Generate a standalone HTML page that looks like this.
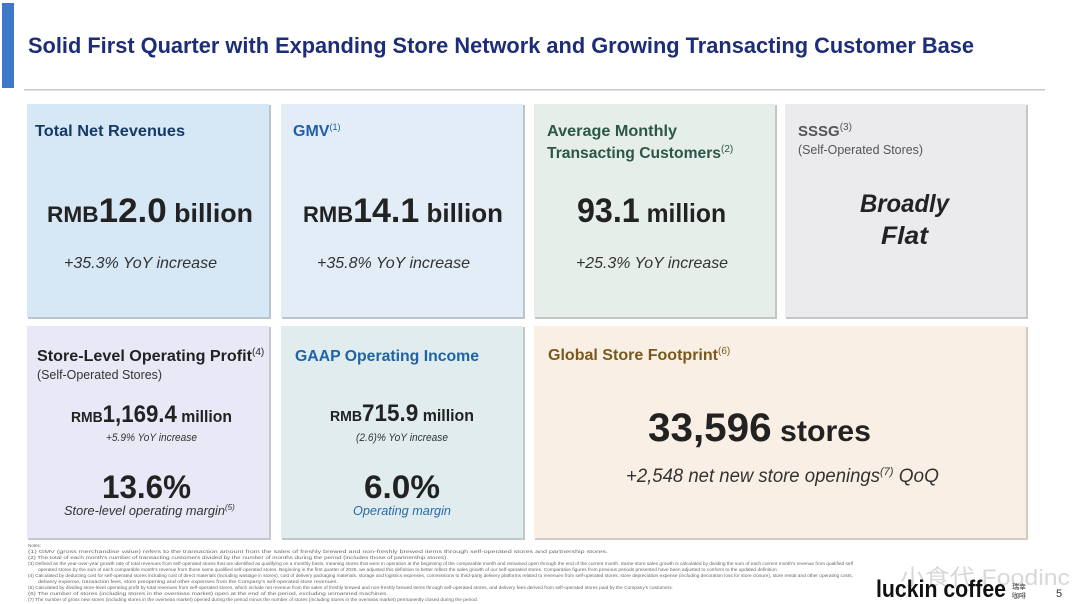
<!DOCTYPE html>
<html><head><meta charset="utf-8"><style>
html,body{margin:0;padding:0;background:#fff;}
svg{display:block;font-family:"Liberation Sans","Noto Sans CJK SC",sans-serif;}
</style></head><body>
<svg width="1080" height="604" viewBox="0 0 1080 604" xmlns="http://www.w3.org/2000/svg">
<rect width="1080" height="604" fill="#fff"/>
<rect x="2" y="3" width="12" height="85" fill="#3f78c8"/>
<text x="28" y="53" font-size="22" font-weight="bold" fill="#1e2d78" textLength="946" lengthAdjust="spacingAndGlyphs">Solid First Quarter with Expanding Store Network and Growing Transacting Customer Base</text>
<rect x="24" y="89" width="1021" height="1.5" fill="#c8c8c8"/>

<!-- cards -->
<g>
<rect x="28" y="105" width="243" height="214" fill="#b9c4cf"/><rect x="27" y="104" width="242" height="213" fill="#d6e7f5"/>
<rect x="282" y="105" width="243" height="214" fill="#bcc3cb"/><rect x="281" y="104" width="242" height="213" fill="#e3edf7"/>
<rect x="535" y="105" width="242" height="214" fill="#c2c7c4"/><rect x="534" y="104" width="241" height="213" fill="#e6eeea"/>
<rect x="786" y="105" width="242" height="214" fill="#c6c6c8"/><rect x="785" y="104" width="241" height="213" fill="#ebebee"/>
<rect x="28" y="327" width="243" height="213" fill="#c6c5d0"/><rect x="27" y="326" width="242" height="212" fill="#e9e8f6"/>
<rect x="282" y="327" width="243" height="213" fill="#bdc8c9"/><rect x="281" y="326" width="242" height="212" fill="#e0eced"/>
<rect x="535" y="327" width="493" height="213" fill="#d2cbc3"/><rect x="534" y="326" width="492" height="212" fill="#f9efe4"/>
</g>

<!-- card 1 -->
<text x="35" y="136" font-size="16" font-weight="bold" fill="#163a68" textLength="150" lengthAdjust="spacingAndGlyphs">Total Net Revenues</text>
<text x="47" y="222" font-weight="bold" fill="#222" textLength="206" lengthAdjust="spacingAndGlyphs"><tspan font-size="22">RMB</tspan><tspan font-size="34">12.0</tspan><tspan font-size="26"> billion</tspan></text>
<text x="64" y="268" font-size="16" font-style="italic" fill="#333" textLength="153" lengthAdjust="spacingAndGlyphs">+35.3% YoY increase</text>

<!-- card 2 -->
<text x="293" y="136" font-size="16" font-weight="bold" fill="#1f5fa8">GMV<tspan font-size="9" font-weight="normal" dy="-6">(1)</tspan></text>
<text x="303" y="222" font-weight="bold" fill="#222" textLength="200" lengthAdjust="spacingAndGlyphs"><tspan font-size="22">RMB</tspan><tspan font-size="34">14.1</tspan><tspan font-size="26"> billion</tspan></text>
<text x="317" y="268" font-size="16" font-style="italic" fill="#333" textLength="153" lengthAdjust="spacingAndGlyphs">+35.8% YoY increase</text>

<!-- card 3 -->
<text x="547" y="136" font-size="16" font-weight="bold" fill="#2c5748" textLength="130" lengthAdjust="spacingAndGlyphs">Average Monthly</text>
<text x="547" y="158" font-size="16" font-weight="bold" fill="#2c5748"><tspan textLength="174" lengthAdjust="spacingAndGlyphs">Transacting Customers</tspan><tspan font-size="10" font-weight="normal" dy="-6">(2)</tspan></text>
<text x="577" y="222" font-weight="bold" fill="#222" textLength="149" lengthAdjust="spacingAndGlyphs"><tspan font-size="34">93.1</tspan><tspan font-size="26"> million</tspan></text>
<text x="576" y="268" font-size="16" font-style="italic" fill="#333" textLength="152" lengthAdjust="spacingAndGlyphs">+25.3% YoY increase</text>

<!-- card 4 -->
<text x="798" y="136" font-size="15" font-weight="bold" fill="#555">SSSG<tspan font-size="10" font-weight="normal" dy="-6">(3)</tspan></text>
<text x="798" y="154" font-size="13" fill="#555" textLength="125" lengthAdjust="spacingAndGlyphs">(Self-Operated Stores)</text>
<text x="860" y="212" font-size="25" font-weight="bold" font-style="italic" fill="#222" textLength="89" lengthAdjust="spacingAndGlyphs">Broadly</text>
<text x="881" y="244" font-size="25" font-weight="bold" font-style="italic" fill="#222" textLength="47" lengthAdjust="spacingAndGlyphs">Flat</text>

<!-- card 5 -->
<text x="37" y="361" font-size="16" font-weight="bold" fill="#222"><tspan textLength="215" lengthAdjust="spacingAndGlyphs">Store-Level Operating Profit</tspan><tspan font-size="10" font-weight="normal" dy="-6">(4)</tspan></text>
<text x="37" y="379" font-size="13" fill="#333" textLength="125" lengthAdjust="spacingAndGlyphs">(Self-Operated Stores)</text>
<text x="71" y="422" font-weight="bold" fill="#222" textLength="161" lengthAdjust="spacingAndGlyphs"><tspan font-size="15">RMB</tspan><tspan font-size="24">1,169.4</tspan><tspan font-size="17"> million</tspan></text>
<text x="106" y="441" font-size="11" font-style="italic" fill="#333" textLength="91" lengthAdjust="spacingAndGlyphs">+5.9% YoY increase</text>
<text x="102" y="498" font-size="32" font-weight="bold" fill="#222" textLength="89" lengthAdjust="spacingAndGlyphs">13.6%</text>
<text x="64" y="515" font-size="13" font-style="italic" fill="#333"><tspan textLength="161" lengthAdjust="spacingAndGlyphs">Store-level operating margin</tspan><tspan font-size="8" dy="-5">(5)</tspan></text>

<!-- card 6 -->
<text x="295" y="361" font-size="16" font-weight="bold" fill="#1f63a8" textLength="184" lengthAdjust="spacingAndGlyphs">GAAP Operating Income</text>
<text x="330" y="421" font-weight="bold" fill="#222" textLength="144" lengthAdjust="spacingAndGlyphs"><tspan font-size="15">RMB</tspan><tspan font-size="24">715.9</tspan><tspan font-size="17"> million</tspan></text>
<text x="356" y="441" font-size="11" font-style="italic" fill="#333" textLength="92" lengthAdjust="spacingAndGlyphs">(2.6)% YoY increase</text>
<text x="364" y="498" font-size="32" font-weight="bold" fill="#222" textLength="76" lengthAdjust="spacingAndGlyphs">6.0%</text>
<text x="353" y="515" font-size="13" font-style="italic" fill="#2a6aa8" textLength="98" lengthAdjust="spacingAndGlyphs">Operating margin</text>

<!-- card 7 -->
<text x="548" y="360" font-size="16" font-weight="bold" fill="#7a5a1c"><tspan textLength="170" lengthAdjust="spacingAndGlyphs">Global Store Footprint</tspan><tspan font-size="10" font-weight="normal" dy="-6">(6)</tspan></text>
<text x="648" y="441" font-weight="bold" fill="#222" textLength="223" lengthAdjust="spacingAndGlyphs"><tspan font-size="40">33,596</tspan><tspan font-size="30"> stores</tspan></text>
<text x="626" y="482" font-size="19" font-style="italic" fill="#333"><tspan textLength="254" lengthAdjust="spacingAndGlyphs">+2,548 net new store openings</tspan><tspan font-size="11" dy="-7">(7)</tspan><tspan dy="7"> QoQ</tspan></text>

<!-- notes -->
<g font-size="4.5" fill="#666">
<text x="28" y="547">Notes:</text>
<text x="28" y="553" textLength="580" lengthAdjust="spacingAndGlyphs">(1)   GMV (gross merchandise value) refers to the transaction amount from the sales of freshly brewed and non-freshly brewed items through self-operated stores and partnership stores.</text>
<text x="28" y="559" textLength="420" lengthAdjust="spacingAndGlyphs">(2)   The total of each month's number of transacting customers divided by the number of months during the period (includes those of partnership stores).</text>
<text x="28" y="565" textLength="825" lengthAdjust="spacingAndGlyphs">(3)   Defined as the year-over-year growth rate of total revenues from self-operated stores that are identified as qualifying on a monthly basis, meaning stores that were in operation at the beginning of the comparable month and remained open through the end of the current month. Same-store sales growth is calculated by dividing the sum of each current month's revenue from qualified self</text>
<text x="38" y="571" textLength="740" lengthAdjust="spacingAndGlyphs">operated stores by the sum of each comparable month's revenue from those same qualified self-operated stores. Beginning in the first quarter of 2026, we adjusted this definition to better reflect the sales growth of our self-operated stores. Comparative figures from previous periods presented have been adjusted to conform to the updated definition.</text>
<text x="28" y="577" textLength="825" lengthAdjust="spacingAndGlyphs">(4)   Calculated by deducting cost for self-operated stores including cost of direct materials (including wastage in stores), cost of delivery packaging materials, storage and logistics expenses, commissions to third-party delivery platforms related to revenues from self-operated stores, store depreciation expense (including decoration loss for store closure), store rental and other operating costs,</text>
<text x="38" y="583" textLength="300" lengthAdjust="spacingAndGlyphs">delivery expense, transaction fees, store preopening and other expenses from the Company's self-operated store revenues.</text>
<text x="28" y="589" textLength="645" lengthAdjust="spacingAndGlyphs">(5)   Calculated by dividing store-level operating profit by total revenues from self-operated stores, which include net revenue from the sales of freshly brewed and non-freshly brewed items through self-operated stores, and delivery fees derived from self-operated stores paid by the Company's customers.</text>
<text x="28" y="595" textLength="360" lengthAdjust="spacingAndGlyphs">(6)   The number of stores (including stores in the overseas market) open at the end of the period, excluding unmanned machines.</text>
<text x="28" y="601" textLength="450" lengthAdjust="spacingAndGlyphs">(7)   The number of gross new stores (including stores in the overseas market) opened during the period minus the number of stores (including stores in the overseas market) permanently closed during the period.</text>
</g>

<!-- logo -->
<text x="900" y="585" font-size="22" fill="#d8d8d8" textLength="170" lengthAdjust="spacingAndGlyphs">小食代 Foodinc</text>
<text x="876" y="597" font-size="24" font-weight="bold" fill="#111" textLength="130" lengthAdjust="spacingAndGlyphs">luckin coffee</text>
<text x="1012" y="589" font-size="7" fill="#333" font-family="Noto Sans CJK SC, sans-serif">瑞幸</text>
<text x="1012" y="598" font-size="7" fill="#333" font-family="Noto Sans CJK SC, sans-serif">咖啡</text>
<text x="1056" y="597" font-size="11" fill="#333">5</text>
</svg>
</body></html>
